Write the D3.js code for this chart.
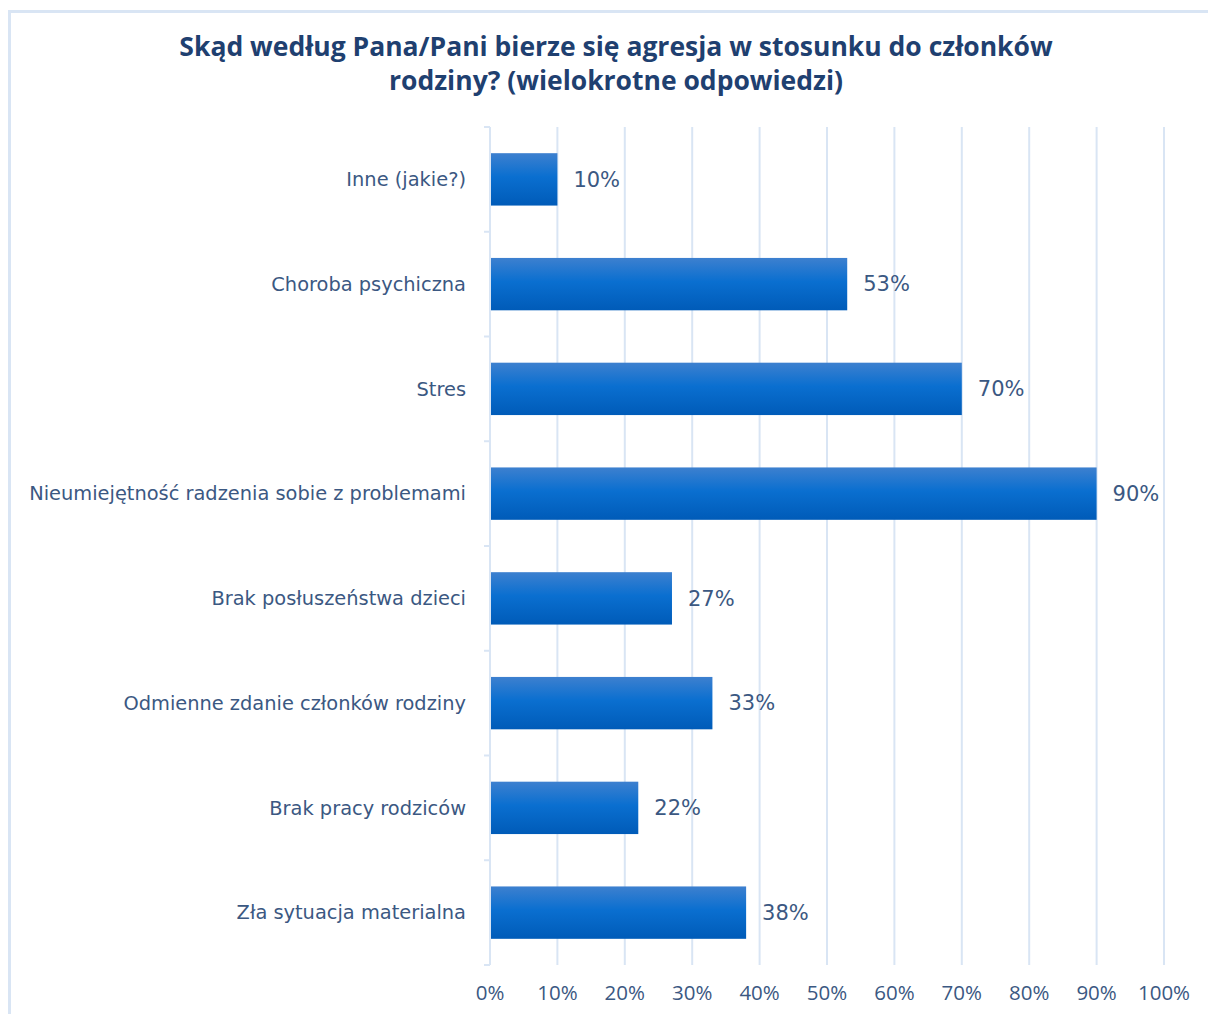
<!DOCTYPE html>
<html>
<head>
<meta charset="utf-8">
<script src="https://cdn.jsdelivr.net/npm/d3@7"></script>
<style>
  body { margin: 0; background: #fff; }
  svg { display: block; }
</style>
</head>
<body>
<div id="chart"></div>
<script>
// chart data, top to bottom as drawn
const categories = [
  "Inne (jakie?)",
  "Choroba psychiczna",
  "Stres",
  "Nieumiejętność radzenia sobie z problemami",
  "Brak posłuszeństwa dzieci",
  "Odmienne zdanie członków rodziny",
  "Brak pracy rodziców",
  "Zła sytuacja materialna"
];
const values = [10, 53, 70, 90, 27, 33, 22, 38];
const xTicks = [0, 10, 20, 30, 40, 50, 60, 70, 80, 90, 100];
const titleLines = [
  "Skąd według Pana/Pani bierze się agresja w stosunku do członków",
  "rodziny? (wielokrotne odpowiedzi)"
];

const width = 1208, height = 1014;
const grid = "#d9e5f4";
const textCol = "#3b5882";

const svg = d3.select("#chart").append("svg")
  .attr("width", width)
  .attr("height", height);

/* gradient for the bars */
const grad = svg.append("defs").append("linearGradient")
  .attr("id", "barGrad")
  .attr("x1", 0).attr("y1", 0).attr("x2", 0).attr("y2", 1);
grad.append("stop").attr("offset", "0%").attr("stop-color", "#3d80cf");
grad.append("stop").attr("offset", "45%").attr("stop-color", "#0a6fd0");
grad.append("stop").attr("offset", "100%").attr("stop-color", "#005bb8");

/* chart frame */
svg.append("path")
  .attr("d", `M${9.5},${height} V${11.5} H${width}`)
  .attr("fill", "none")
  .attr("stroke", grid)
  .attr("stroke-width", 3);

/* title */
svg.append("text")
  .attr("x", 616)
  .attr("y", 56)
  .attr("text-anchor", "middle")
  .attr("fill", "#1f4070")
  .style("font-family", "'Open Sans', sans-serif")
  .style("font-weight", "bold")
  .style("font-size", "26.5px")
  .selectAll("tspan")
  .data(titleLines)
  .join("tspan")
  .attr("x", 616)
  .attr("dy", (d, i) => i ? 34 : 0)
  .text(d => d);

const x = d3.scaleLinear().domain([0, 100]).range([490, 1164]);
const y = d3.scaleBand().domain(categories).range([127, 965]).paddingInner(0.5).paddingOuter(0.25);

/* vertical gridlines */
svg.append("g")
  .selectAll("line")
  .data(xTicks.slice(1))
  .join("line")
  .attr("x1", d => x(d)).attr("x2", d => x(d))
  .attr("y1", 127).attr("y2", 965)
  .attr("stroke", grid)
  .attr("stroke-width", 2);

/* category axis with ticks between bands */
const bounds = d3.range(categories.length + 1).map(i => 127 + i * (838 / categories.length));
const yAxis = svg.append("g");
yAxis.append("line")
  .attr("x1", 490).attr("x2", 490)
  .attr("y1", 127).attr("y2", 965)
  .attr("stroke", grid).attr("stroke-width", 2);
yAxis.selectAll("line.tick")
  .data(bounds)
  .join("line")
  .attr("class", "tick")
  .attr("x1", 484).attr("x2", 490)
  .attr("y1", d => d).attr("y2", d => d)
  .attr("stroke", grid).attr("stroke-width", 2);

/* bars */
svg.append("g")
  .selectAll("rect")
  .data(values)
  .join("rect")
  .attr("x", x(0) + 1)
  .attr("y", (d, i) => y(categories[i]))
  .attr("width", d => x(d) - x(0) - 1)
  .attr("height", y.bandwidth())
  .attr("fill", "url(#barGrad)");

/* category labels */
svg.append("g")
  .selectAll("text")
  .data(categories)
  .join("text")
  .attr("x", 466)
  .attr("y", d => y(d) + y.bandwidth() / 2)
  .attr("dy", "0.35em")
  .attr("text-anchor", "end")
  .attr("fill", textCol)
  .style("font-family", "'DejaVu Sans', Verdana, sans-serif")
  .style("font-size", "19.4px")
  .text(d => d);

/* value labels */
svg.append("g")
  .selectAll("text")
  .data(values)
  .join("text")
  .attr("x", d => x(d) + 16)
  .attr("y", (d, i) => y(categories[i]) + y.bandwidth() / 2)
  .attr("dy", "0.35em")
  .attr("fill", textCol)
  .style("font-family", "'DejaVu Sans', Verdana, sans-serif")
  .style("font-size", "21px")
  .text(d => d + "%");

/* x tick labels */
svg.append("g")
  .selectAll("text")
  .data(xTicks)
  .join("text")
  .attr("x", d => x(d))
  .attr("y", 1000)
  .attr("text-anchor", "middle")
  .attr("fill", textCol)
  .style("font-family", "'Open Sans', sans-serif")
  .style("font-size", "20.5px")
  .text(d => d + "%");
</script>
</body>
</html>
